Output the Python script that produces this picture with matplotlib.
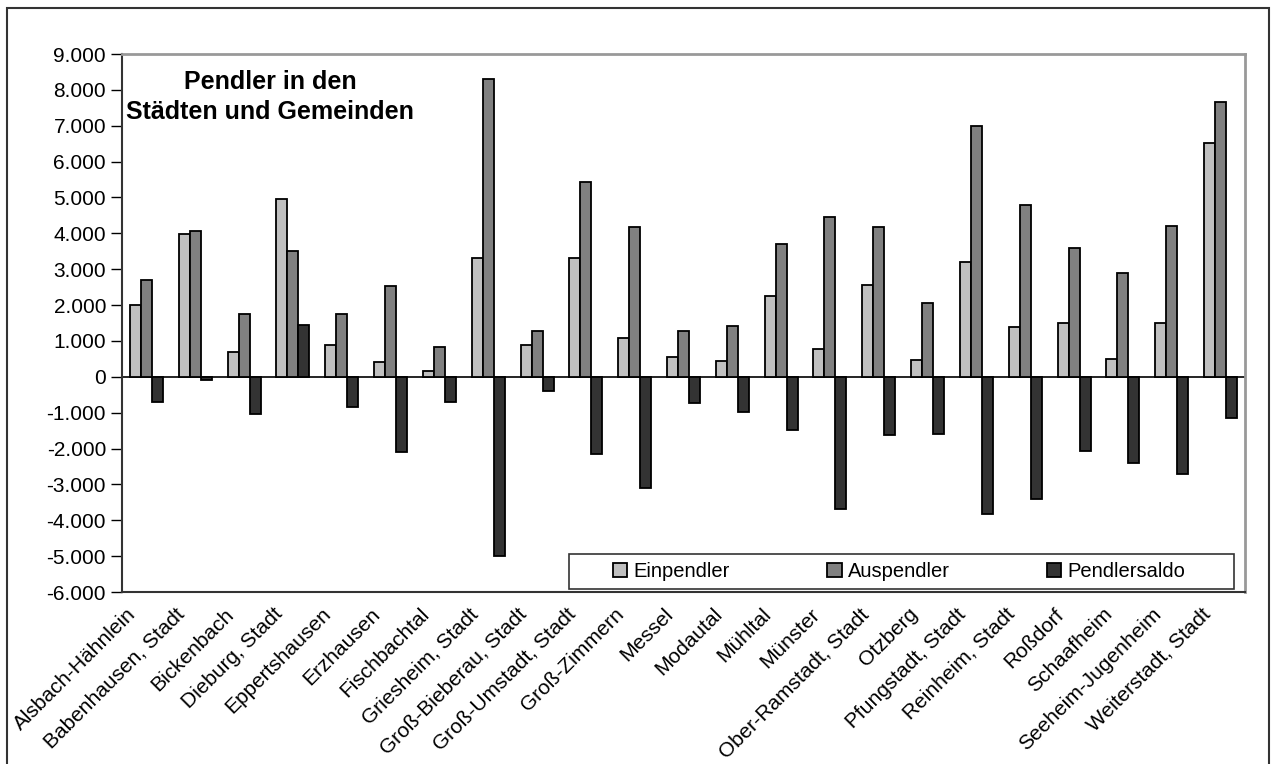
import numpy as np
import matplotlib
matplotlib.use("Agg")
import matplotlib.pyplot as plt
from matplotlib.ticker import FuncFormatter, MultipleLocator
from matplotlib.patches import Rectangle
import matplotlib.transforms as mtransforms

plt.rcParams['font.family'] = ['Liberation Sans', 'DejaVu Sans']

# Gemeinden im Landkreis
gemeinden = ["Alsbach-Hähnlein", "Babenhausen, Stadt", "Bickenbach", "Dieburg, Stadt",
             "Eppertshausen", "Erzhausen", "Fischbachtal", "Griesheim, Stadt",
             "Groß-Bieberau, Stadt", "Groß-Umstadt, Stadt", "Groß-Zimmern", "Messel",
             "Modautal", "Mühltal", "Münster", "Ober-Ramstadt, Stadt", "Otzberg",
             "Pfungstadt, Stadt", "Reinheim, Stadt", "Roßdorf", "Schaafheim",
             "Seeheim-Jugenheim", "Weiterstadt, Stadt"]

einpendler = [2000, 3980, 700, 4950, 900, 420, 150, 3300, 890, 3300, 1090, 540,
              450, 2240, 770, 2560, 470, 3190, 1380, 1500, 490, 1500, 6520]
auspendler = [2700, 4070, 1750, 3520, 1740, 2520, 840, 8300, 1270, 5440, 4180, 1270,
              1420, 3710, 4460, 4180, 2060, 7000, 4800, 3580, 2890, 4210, 7660]
pendlersaldo = [-700, -100, -1050, 1450, -850, -2100, -690, -5000, -400, -2140, -3090, -730,
                -980, -1480, -3690, -1630, -1600, -3820, -3420, -2060, -2400, -2710, -1140]

fig = plt.figure(figsize=(12.71, 7.64), dpi=100)
ax = fig.add_axes([122/1271, 1 - 592/764, (1245-122)/1271, (592-54)/764])

# outer frame of the figure
fig.patches.append(Rectangle((7/1271, -0.05), (1269-7)/1271, 1 - 8/764 + 0.05,
                             transform=fig.transFigure, fill=False,
                             edgecolor='#333333', linewidth=1.5))

x = np.arange(len(gemeinden))
w = 0.225
ax.bar(x - w, einpendler, w, color='#c0c0c0', edgecolor='black', linewidth=1.3, label='Einpendler')
ax.bar(x, auspendler, w, color='#808080', edgecolor='black', linewidth=1.3, label='Auspendler')
ax.bar(x + w, pendlersaldo, w, color='#333333', edgecolor='black', linewidth=1.3, label='Pendlersaldo')

ax.axhline(0, color='black', linewidth=1.2, zorder=0.5)

ax.set_xlim(-0.5, len(gemeinden) - 0.5)
ax.set_ylim(-6000, 9000)
ax.yaxis.set_major_locator(MultipleLocator(1000))
ax.yaxis.set_major_formatter(FuncFormatter(lambda v, p: f"{int(v):,}".replace(",", ".")))
ax.tick_params(axis='y', labelsize=15, length=8, width=1, direction='out')
ax.tick_params(axis='x', length=0, pad=4)

ax.set_xticks(x)
ax.set_xticklabels(gemeinden, rotation=45, ha='right', rotation_mode='anchor', fontsize=15)
offset = mtransforms.ScaledTranslation(-20/100, -7/100, fig.dpi_scale_trans)
for lbl in ax.get_xticklabels():
    lbl.set_transform(lbl.get_transform() + offset)

for side in ['top', 'right']:
    ax.spines[side].set_color('#999999')
    ax.spines[side].set_linewidth(2)
for side in ['left', 'bottom']:
    ax.spines[side].set_color('#333333')
    ax.spines[side].set_linewidth(1.5)

ax.text(0.132, 0.97, "Pendler in den\nStädten und Gemeinden", transform=ax.transAxes,
        ha='center', va='top', fontsize=18, fontweight='bold', linespacing=1.3)

# legend box drawn separately, entries centred inside
box_l, box_r = (569-122)/1123, (1234-122)/1123
box_b, box_t = (592-589)/538, (592-554)/538
ax.add_patch(Rectangle((box_l, box_b), box_r - box_l, box_t - box_b, transform=ax.transAxes,
                       facecolor='white', edgecolor='#333333', linewidth=1.2, zorder=4))
leg = ax.legend(loc='center', bbox_to_anchor=((box_l + box_r)/2 - 0.002, (box_b + box_t)/2),
                ncol=3, fontsize=14.5, frameon=False, borderaxespad=0, columnspacing=4.85,
                handlelength=0.7, handleheight=0.7, handletextpad=0.3, borderpad=0)
leg.set_zorder(5)

fig.savefig("out.png", dpi=100)
